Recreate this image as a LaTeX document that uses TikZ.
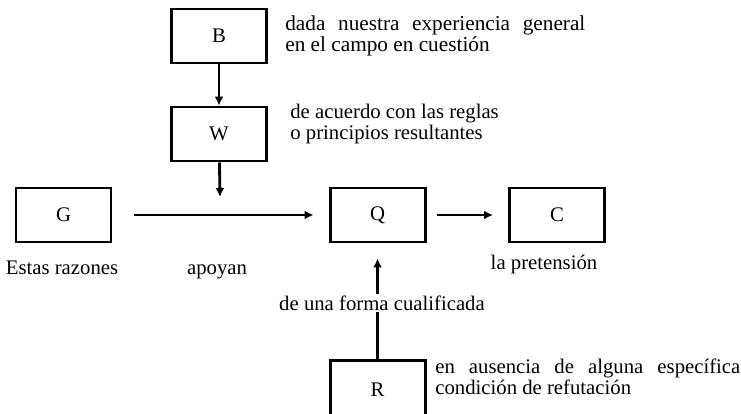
\documentclass[tikz,border=0pt]{standalone}
\usepackage{fontspec}
\setmainfont{Liberation Serif}
\usetikzlibrary{arrows.meta}
\begin{document}
\begin{tikzpicture}[every node/.style={font=\fontsize{11.8}{12.2}\selectfont}]
\tikzstyle{enlace}=[-{Latex[length=1.8mm,width=1.8mm]},line width=1.6pt]
\tikzset{caja/.style={draw,line width=1.7pt,minimum width=1.9cm,minimum height=1.08cm,inner sep=0pt},
texto/.style={inner sep=0pt,align=left}}
\useasboundingbox (0,0) rectangle (14.82,-8.26);
\node[caja] (B) at (4.38,-0.72) {B};
\node[caja] (W) at (4.38,-2.68) {W};
\node[caja] (G) at (1.27,-4.3) {G};
\node[caja] (Q) at (7.55,-4.3) {Q};
\node[caja] (C) at (11.14,-4.3) {C};
\node[caja,minimum height=1.2cm] (R) at (7.55,-7.8) {R};
\coordinate (apoyo) at (4.4,-3.94);

\node[texto,anchor=west,font=\fontsize{12.1}{12.2}\selectfont] (tB) at (5.7,-0.72)
  {\makebox[6cm][s]{dada nuestra experiencia general}\\en el campo en cuestión};
\node[texto,anchor=west] (tW) at (5.8,-2.48) {de acuerdo con las reglas\\o principios resultantes};
\node[texto,anchor=west] (tR) at (8.7,-7.54)
  {\makebox[6.1cm][s]{en ausencia de alguna específica}\\condición de refutación};
\node[texto,anchor=base] (tG) at (1.24,-5.48) {Estas razones};
\node[texto,anchor=base] (tA) at (4.34,-5.48) {apoyan};
\node[texto,anchor=base] (tC) at (10.88,-5.38) {la pretensión};

\draw[enlace] (B) -- (W);
\draw[enlace] (W) -- (apoyo);
\draw[enlace,shorten <=0.44cm,shorten >=0.3cm] (G) -- (Q);
\draw[enlace,shorten <=0.2cm,shorten >=0.3cm] (Q) -- (C);
\draw[enlace,shorten >=0.3cm] (R) -- (Q);
\node[fill=white,inner sep=1pt] (tQ) at (7.64,-6.06) {de una forma cualificada};

\end{tikzpicture}
\end{document}
